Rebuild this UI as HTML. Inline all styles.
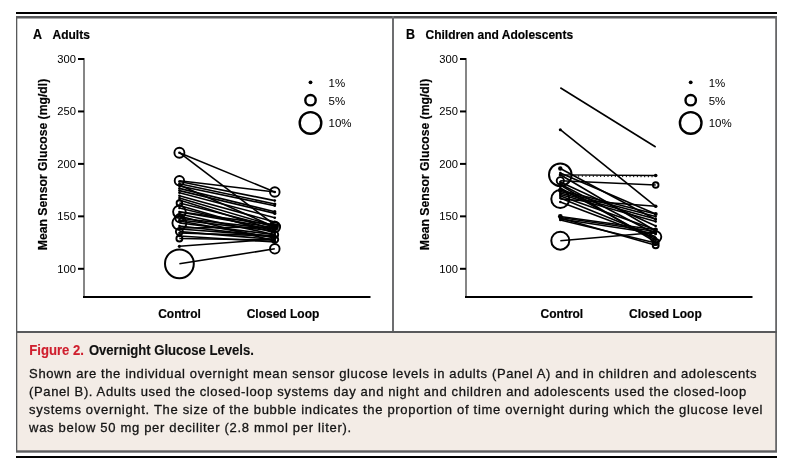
<!DOCTYPE html>
<html><head><meta charset="utf-8"><style>
html,body{margin:0;padding:0;background:#fff;}
body{width:787px;height:467px;overflow:hidden;position:relative;font-family:"Liberation Sans",sans-serif;}
svg{position:absolute;left:0;top:0;will-change:transform;}
text{font-family:"Liberation Sans",sans-serif;} .ch text[font-weight=bold]{stroke:#000;stroke-width:0.2px;}
</style></head><body>
<svg class="ch" width="787" height="467" viewBox="0 0 787 467">
<rect x="16" y="12" width="761" height="2" fill="#000"/>
<rect x="16" y="333" width="761" height="118" fill="#f3ece6"/>
<rect x="16" y="16" width="761" height="2.5" fill="#58595b"/>
<rect x="16" y="16" width="1.3" height="436" fill="#58595b"/>
<rect x="775.2" y="16" width="1.8" height="436" fill="#666769"/>
<rect x="16" y="450.3" width="761" height="2.4" fill="#5e5f61"/>
<rect x="392" y="16" width="2" height="316" fill="#6d6e70"/>
<rect x="16" y="331" width="761" height="2" fill="#58595b"/>
<rect x="16" y="456" width="761" height="2" fill="#000"/>
<text x="33" y="38.9" font-size="14" font-weight="bold" textLength="9.0" lengthAdjust="spacingAndGlyphs">A</text>
<text x="52.5" y="38.9" font-size="13.4" font-weight="bold" textLength="37.33" lengthAdjust="spacingAndGlyphs">Adults</text>
<text x="406" y="38.9" font-size="14" font-weight="bold" textLength="9.0" lengthAdjust="spacingAndGlyphs">B</text>
<text x="425.5" y="38.9" font-size="13.4" font-weight="bold" textLength="147.6" lengthAdjust="spacingAndGlyphs">Children and Adolescents</text>
<line x1="179.4" y1="152.7" x2="274.8" y2="192.0" stroke="#000" stroke-width="1.6"/>
<line x1="179.4" y1="152.7" x2="274.8" y2="225.0" stroke="#000" stroke-width="1.6"/>
<line x1="179.4" y1="180.7" x2="274.8" y2="192.0" stroke="#000" stroke-width="1.6"/>
<line x1="179.4" y1="181.5" x2="274.8" y2="200.6" stroke="#000" stroke-width="1.6"/>
<line x1="179.4" y1="183.7" x2="274.8" y2="204.0" stroke="#000" stroke-width="1.6"/>
<line x1="179.4" y1="186.0" x2="274.8" y2="205.7" stroke="#000" stroke-width="1.6"/>
<line x1="179.4" y1="188.4" x2="274.8" y2="211.7" stroke="#000" stroke-width="1.6"/>
<line x1="179.4" y1="190.6" x2="274.8" y2="213.4" stroke="#000" stroke-width="1.6"/>
<line x1="179.4" y1="192.7" x2="274.8" y2="217.7" stroke="#000" stroke-width="1.6"/>
<line x1="179.4" y1="185.0" x2="274.8" y2="227.0" stroke="#000" stroke-width="1.6"/>
<line x1="179.4" y1="212.0" x2="274.8" y2="228.0" stroke="#000" stroke-width="1.6"/>
<line x1="179.4" y1="195.7" x2="274.8" y2="222.0" stroke="#000" stroke-width="1.6"/>
<line x1="179.4" y1="198.0" x2="274.8" y2="226.0" stroke="#000" stroke-width="1.6"/>
<line x1="179.4" y1="200.0" x2="274.8" y2="230.0" stroke="#000" stroke-width="1.6"/>
<line x1="179.4" y1="203.0" x2="274.8" y2="227.0" stroke="#000" stroke-width="1.6"/>
<line x1="179.4" y1="205.5" x2="274.8" y2="233.0" stroke="#000" stroke-width="1.6"/>
<line x1="179.4" y1="211.8" x2="274.8" y2="225.0" stroke="#000" stroke-width="1.6"/>
<line x1="179.4" y1="214.0" x2="274.8" y2="234.7" stroke="#000" stroke-width="1.6"/>
<line x1="179.4" y1="218.2" x2="274.8" y2="229.0" stroke="#000" stroke-width="1.6"/>
<line x1="179.4" y1="220.0" x2="274.8" y2="231.0" stroke="#000" stroke-width="1.6"/>
<line x1="179.4" y1="223.0" x2="274.8" y2="234.7" stroke="#000" stroke-width="1.6"/>
<line x1="179.4" y1="226.0" x2="274.8" y2="237.0" stroke="#000" stroke-width="1.6"/>
<line x1="179.4" y1="228.0" x2="274.8" y2="227.0" stroke="#000" stroke-width="1.6"/>
<line x1="179.4" y1="231.6" x2="274.8" y2="239.4" stroke="#000" stroke-width="1.6"/>
<line x1="179.4" y1="233.0" x2="274.8" y2="236.0" stroke="#000" stroke-width="1.6"/>
<line x1="179.4" y1="238.5" x2="274.8" y2="240.0" stroke="#000" stroke-width="1.6"/>
<line x1="179.4" y1="236.0" x2="274.8" y2="242.0" stroke="#000" stroke-width="1.6"/>
<line x1="179.4" y1="246.3" x2="274.8" y2="239.0" stroke="#000" stroke-width="1.6"/>
<line x1="179.4" y1="263.8" x2="274.8" y2="248.8" stroke="#000" stroke-width="1.6"/>
<line x1="179.4" y1="221.0" x2="274.8" y2="238.0" stroke="#000" stroke-width="1.6"/>
<line x1="179.4" y1="208.0" x2="274.8" y2="231.0" stroke="#000" stroke-width="1.6"/>
<line x1="179.4" y1="216.0" x2="274.8" y2="241.0" stroke="#000" stroke-width="1.6"/>
<line x1="179.4" y1="229.0" x2="274.8" y2="236.0" stroke="#000" stroke-width="1.6"/>
<circle cx="179.4" cy="152.7" r="5.0" fill="none" stroke="#000" stroke-width="1.9"/>
<circle cx="274.8" cy="192.0" r="4.8" fill="none" stroke="#000" stroke-width="1.9"/>
<circle cx="179.4" cy="152.7" r="1.3" fill="#000"/>
<circle cx="274.8" cy="225.0" r="1.3" fill="#000"/>
<circle cx="179.4" cy="180.7" r="4.7" fill="none" stroke="#000" stroke-width="1.9"/>
<circle cx="274.8" cy="192.0" r="1.3" fill="#000"/>
<circle cx="179.4" cy="181.5" r="1.3" fill="#000"/>
<circle cx="274.8" cy="200.6" r="1.3" fill="#000"/>
<circle cx="179.4" cy="183.7" r="1.3" fill="#000"/>
<circle cx="274.8" cy="204.0" r="1.6" fill="#000"/>
<circle cx="179.4" cy="186.0" r="1.3" fill="#000"/>
<circle cx="274.8" cy="205.7" r="1.3" fill="#000"/>
<circle cx="179.4" cy="188.4" r="1.3" fill="#000"/>
<circle cx="274.8" cy="211.7" r="1.6" fill="#000"/>
<circle cx="179.4" cy="190.6" r="1.3" fill="#000"/>
<circle cx="274.8" cy="213.4" r="1.6" fill="#000"/>
<circle cx="179.4" cy="192.7" r="1.3" fill="#000"/>
<circle cx="274.8" cy="217.7" r="1.3" fill="#000"/>
<circle cx="179.4" cy="185.0" r="1.3" fill="#000"/>
<circle cx="274.8" cy="227.0" r="1.3" fill="#000"/>
<circle cx="179.4" cy="212.0" r="1.3" fill="#000"/>
<circle cx="274.8" cy="228.0" r="1.3" fill="#000"/>
<circle cx="179.4" cy="195.7" r="1.3" fill="#000"/>
<circle cx="274.8" cy="222.0" r="1.3" fill="#000"/>
<circle cx="179.4" cy="198.0" r="1.3" fill="#000"/>
<circle cx="274.8" cy="226.0" r="1.3" fill="#000"/>
<circle cx="179.4" cy="200.0" r="1.3" fill="#000"/>
<circle cx="274.8" cy="230.0" r="1.3" fill="#000"/>
<circle cx="179.4" cy="203.0" r="2.8" fill="none" stroke="#000" stroke-width="1.9"/>
<circle cx="274.8" cy="227.0" r="5.3" fill="none" stroke="#000" stroke-width="1.9"/>
<circle cx="179.4" cy="205.5" r="1.3" fill="#000"/>
<circle cx="274.8" cy="233.0" r="1.3" fill="#000"/>
<circle cx="179.4" cy="211.8" r="6.3" fill="none" stroke="#000" stroke-width="1.9"/>
<circle cx="274.8" cy="225.0" r="3.2" fill="none" stroke="#000" stroke-width="1.9"/>
<circle cx="179.4" cy="214.0" r="1.3" fill="#000"/>
<circle cx="274.8" cy="234.7" r="3.4" fill="none" stroke="#000" stroke-width="1.9"/>
<circle cx="179.4" cy="218.2" r="4.0" fill="none" stroke="#000" stroke-width="1.9"/>
<circle cx="274.8" cy="229.0" r="1.3" fill="#000"/>
<circle cx="179.4" cy="220.0" r="1.3" fill="#000"/>
<circle cx="274.8" cy="231.0" r="1.3" fill="#000"/>
<circle cx="179.4" cy="223.0" r="7.0" fill="none" stroke="#000" stroke-width="1.9"/>
<circle cx="274.8" cy="234.7" r="1.3" fill="#000"/>
<circle cx="179.4" cy="226.0" r="1.3" fill="#000"/>
<circle cx="274.8" cy="237.0" r="1.3" fill="#000"/>
<circle cx="179.4" cy="228.0" r="1.3" fill="#000"/>
<circle cx="274.8" cy="227.0" r="1.3" fill="#000"/>
<circle cx="179.4" cy="231.6" r="3.5" fill="none" stroke="#000" stroke-width="1.9"/>
<circle cx="274.8" cy="239.4" r="3.4" fill="none" stroke="#000" stroke-width="1.9"/>
<circle cx="179.4" cy="233.0" r="1.3" fill="#000"/>
<circle cx="274.8" cy="236.0" r="1.3" fill="#000"/>
<circle cx="179.4" cy="238.5" r="3.0" fill="none" stroke="#000" stroke-width="1.9"/>
<circle cx="274.8" cy="240.0" r="1.3" fill="#000"/>
<circle cx="179.4" cy="236.0" r="1.3" fill="#000"/>
<circle cx="274.8" cy="242.0" r="1.3" fill="#000"/>
<circle cx="179.4" cy="246.3" r="1.6" fill="#000"/>
<circle cx="274.8" cy="239.0" r="1.3" fill="#000"/>
<circle cx="179.4" cy="263.8" r="14.4" fill="none" stroke="#000" stroke-width="2.0"/>
<circle cx="274.8" cy="248.8" r="4.8" fill="none" stroke="#000" stroke-width="1.9"/>
<circle cx="179.4" cy="221.0" r="1.3" fill="#000"/>
<circle cx="274.8" cy="238.0" r="1.3" fill="#000"/>
<circle cx="179.4" cy="208.0" r="1.3" fill="#000"/>
<circle cx="274.8" cy="231.0" r="1.3" fill="#000"/>
<circle cx="179.4" cy="216.0" r="1.3" fill="#000"/>
<circle cx="274.8" cy="241.0" r="1.3" fill="#000"/>
<circle cx="179.4" cy="229.0" r="1.3" fill="#000"/>
<circle cx="274.8" cy="236.0" r="1.3" fill="#000"/>
<line x1="84" y1="58" x2="84" y2="297" stroke="#808080" stroke-width="1.9"/>
<line x1="83" y1="297" x2="370.5" y2="297" stroke="#000" stroke-width="2"/>
<line x1="78" y1="59.00" x2="84" y2="59.00" stroke="#000" stroke-width="2"/>
<text x="76" y="63.00" text-anchor="end" font-size="11.2">300</text>
<line x1="78" y1="111.45" x2="84" y2="111.45" stroke="#000" stroke-width="2"/>
<text x="76" y="115.45" text-anchor="end" font-size="11.2">250</text>
<line x1="78" y1="163.90" x2="84" y2="163.90" stroke="#000" stroke-width="2"/>
<text x="76" y="167.90" text-anchor="end" font-size="11.2">200</text>
<line x1="78" y1="216.35" x2="84" y2="216.35" stroke="#000" stroke-width="2"/>
<text x="76" y="220.35" text-anchor="end" font-size="11.2">150</text>
<line x1="78" y1="268.80" x2="84" y2="268.80" stroke="#000" stroke-width="2"/>
<text x="76" y="272.80" text-anchor="end" font-size="11.2">100</text>
<circle cx="310.5" cy="82.3" r="1.9" fill="#000"/>
<circle cx="310.5" cy="100.2" r="5.2" fill="none" stroke="#000" stroke-width="2.4"/>
<circle cx="310.5" cy="122.9" r="10.8" fill="none" stroke="#000" stroke-width="2.4"/>
<text x="328.5" y="87.2" font-size="11.5">1%</text>
<text x="328.5" y="104.5" font-size="11.5">5%</text>
<text x="328.5" y="127.3" font-size="11.5">10%</text>
<text x="179.5" y="318.2" text-anchor="middle" font-size="13" font-weight="bold" textLength="42.65" lengthAdjust="spacingAndGlyphs">Control</text>
<text x="283.0" y="318.2" text-anchor="middle" font-size="13" font-weight="bold" textLength="72.66" lengthAdjust="spacingAndGlyphs">Closed Loop</text>
<text transform="translate(46.5,164.5) rotate(-90)" text-anchor="middle" font-size="13" font-weight="bold" textLength="171.5" lengthAdjust="spacingAndGlyphs">Mean Sensor Glucose (mg/dl)</text><circle cx="275" cy="227" r="3.8" fill="#000"/>
<line x1="560.3" y1="87.7" x2="655.7" y2="147.0" stroke="#000" stroke-width="1.6"/>
<line x1="560.3" y1="129.7" x2="655.7" y2="206.3" stroke="#000" stroke-width="1.6"/>
<line x1="560.3" y1="168.5" x2="655.7" y2="219.5" stroke="#000" stroke-width="1.6"/>
<line x1="560.3" y1="174.7" x2="655.7" y2="231.0" stroke="#000" stroke-width="1.6"/>
<line x1="560.3" y1="180.7" x2="655.7" y2="185.0" stroke="#000" stroke-width="1.6"/>
<line x1="560.3" y1="199.0" x2="655.7" y2="206.3" stroke="#000" stroke-width="1.6"/>
<line x1="560.3" y1="173.0" x2="655.7" y2="214.0" stroke="#000" stroke-width="1.6"/>
<line x1="560.3" y1="190.3" x2="655.7" y2="214.0" stroke="#000" stroke-width="1.6"/>
<line x1="560.3" y1="191.5" x2="655.7" y2="216.5" stroke="#000" stroke-width="1.6"/>
<line x1="560.3" y1="193.0" x2="655.7" y2="219.0" stroke="#000" stroke-width="1.6"/>
<line x1="560.3" y1="194.5" x2="655.7" y2="221.5" stroke="#000" stroke-width="1.6"/>
<line x1="560.3" y1="196.0" x2="655.7" y2="229.8" stroke="#000" stroke-width="1.6"/>
<line x1="560.3" y1="198.0" x2="655.7" y2="236.8" stroke="#000" stroke-width="1.6"/>
<line x1="560.3" y1="185.0" x2="655.7" y2="242.0" stroke="#000" stroke-width="1.6"/>
<line x1="560.3" y1="188.0" x2="655.7" y2="240.0" stroke="#000" stroke-width="1.6"/>
<line x1="560.3" y1="216.5" x2="655.7" y2="229.8" stroke="#000" stroke-width="1.6"/>
<line x1="560.3" y1="217.5" x2="655.7" y2="231.5" stroke="#000" stroke-width="1.6"/>
<line x1="560.3" y1="219.0" x2="655.7" y2="233.5" stroke="#000" stroke-width="1.6"/>
<line x1="560.3" y1="218.0" x2="655.7" y2="245.3" stroke="#000" stroke-width="1.6"/>
<line x1="560.3" y1="220.0" x2="655.7" y2="243.0" stroke="#000" stroke-width="1.6"/>
<line x1="560.3" y1="240.7" x2="655.7" y2="232.5" stroke="#000" stroke-width="1.6"/>
<line x1="560.3" y1="182.0" x2="655.7" y2="226.0" stroke="#000" stroke-width="1.6"/>
<line x1="560.3" y1="202.0" x2="655.7" y2="238.0" stroke="#000" stroke-width="1.6"/>
<line x1="560.3" y1="184.0" x2="655.7" y2="234.0" stroke="#000" stroke-width="1.6"/>
<circle cx="560.3" cy="129.7" r="1.5" fill="#000"/>
<circle cx="655.7" cy="206.3" r="1.8" fill="#000"/>
<circle cx="560.3" cy="168.5" r="2.2" fill="#000"/>
<circle cx="655.7" cy="219.5" r="1.3" fill="#000"/>
<circle cx="560.3" cy="174.7" r="11.3" fill="none" stroke="#000" stroke-width="2.0"/>
<circle cx="655.7" cy="231.0" r="1.3" fill="#000"/>
<circle cx="560.3" cy="180.7" r="3.6" fill="none" stroke="#000" stroke-width="1.9"/>
<circle cx="655.7" cy="185.0" r="2.8" fill="none" stroke="#000" stroke-width="1.9"/>
<circle cx="560.3" cy="199.0" r="9.0" fill="none" stroke="#000" stroke-width="2.0"/>
<circle cx="655.7" cy="206.3" r="1.3" fill="#000"/>
<circle cx="560.3" cy="173.0" r="1.3" fill="#000"/>
<circle cx="655.7" cy="214.0" r="2.0" fill="#000"/>
<circle cx="560.3" cy="190.3" r="2.4" fill="#000"/>
<circle cx="655.7" cy="214.0" r="1.3" fill="#000"/>
<circle cx="560.3" cy="191.5" r="1.3" fill="#000"/>
<circle cx="655.7" cy="216.5" r="1.3" fill="#000"/>
<circle cx="560.3" cy="193.0" r="1.3" fill="#000"/>
<circle cx="655.7" cy="219.0" r="1.3" fill="#000"/>
<circle cx="560.3" cy="194.5" r="1.3" fill="#000"/>
<circle cx="655.7" cy="221.5" r="1.3" fill="#000"/>
<circle cx="560.3" cy="196.0" r="1.3" fill="#000"/>
<circle cx="655.7" cy="229.8" r="2.2" fill="#000"/>
<circle cx="560.3" cy="198.0" r="1.3" fill="#000"/>
<circle cx="655.7" cy="236.8" r="5.6" fill="none" stroke="#000" stroke-width="1.9"/>
<circle cx="560.3" cy="185.0" r="1.3" fill="#000"/>
<circle cx="655.7" cy="242.0" r="3.0" fill="none" stroke="#000" stroke-width="1.9"/>
<circle cx="560.3" cy="188.0" r="1.3" fill="#000"/>
<circle cx="655.7" cy="240.0" r="1.3" fill="#000"/>
<circle cx="560.3" cy="216.5" r="2.4" fill="#000"/>
<circle cx="655.7" cy="229.8" r="1.3" fill="#000"/>
<circle cx="560.3" cy="217.5" r="1.3" fill="#000"/>
<circle cx="655.7" cy="231.5" r="1.3" fill="#000"/>
<circle cx="560.3" cy="219.0" r="1.3" fill="#000"/>
<circle cx="655.7" cy="233.5" r="1.3" fill="#000"/>
<circle cx="560.3" cy="218.0" r="1.3" fill="#000"/>
<circle cx="655.7" cy="245.3" r="3.0" fill="none" stroke="#000" stroke-width="1.9"/>
<circle cx="560.3" cy="220.0" r="1.3" fill="#000"/>
<circle cx="655.7" cy="243.0" r="1.3" fill="#000"/>
<circle cx="560.3" cy="240.7" r="9.0" fill="none" stroke="#000" stroke-width="2.0"/>
<circle cx="655.7" cy="232.5" r="1.3" fill="#000"/>
<circle cx="560.3" cy="182.0" r="1.3" fill="#000"/>
<circle cx="655.7" cy="226.0" r="1.3" fill="#000"/>
<circle cx="560.3" cy="202.0" r="1.3" fill="#000"/>
<circle cx="655.7" cy="238.0" r="1.3" fill="#000"/>
<circle cx="560.3" cy="184.0" r="1.3" fill="#000"/>
<circle cx="655.7" cy="234.0" r="1.3" fill="#000"/>
<line x1="560.3" y1="174.9" x2="655.7" y2="175.5" stroke="#000" stroke-width="1.3"/>
<rect x="563.47" y="175.22" width="1.0" height="1.5" fill="#000"/>
<rect x="567.14" y="175.25" width="1.0" height="1.5" fill="#000"/>
<rect x="570.81" y="175.27" width="1.0" height="1.5" fill="#000"/>
<rect x="574.48" y="175.29" width="1.0" height="1.5" fill="#000"/>
<rect x="578.15" y="175.32" width="1.0" height="1.5" fill="#000"/>
<rect x="581.82" y="175.34" width="1.0" height="1.5" fill="#000"/>
<rect x="585.48" y="175.36" width="1.0" height="1.5" fill="#000"/>
<rect x="589.15" y="175.38" width="1.0" height="1.5" fill="#000"/>
<rect x="592.82" y="175.41" width="1.0" height="1.5" fill="#000"/>
<rect x="596.49" y="175.43" width="1.0" height="1.5" fill="#000"/>
<rect x="600.16" y="175.45" width="1.0" height="1.5" fill="#000"/>
<rect x="603.83" y="175.48" width="1.0" height="1.5" fill="#000"/>
<rect x="607.50" y="175.50" width="1.0" height="1.5" fill="#000"/>
<rect x="611.17" y="175.52" width="1.0" height="1.5" fill="#000"/>
<rect x="614.84" y="175.55" width="1.0" height="1.5" fill="#000"/>
<rect x="618.51" y="175.57" width="1.0" height="1.5" fill="#000"/>
<rect x="622.18" y="175.59" width="1.0" height="1.5" fill="#000"/>
<rect x="625.85" y="175.62" width="1.0" height="1.5" fill="#000"/>
<rect x="629.52" y="175.64" width="1.0" height="1.5" fill="#000"/>
<rect x="633.18" y="175.66" width="1.0" height="1.5" fill="#000"/>
<rect x="636.85" y="175.68" width="1.0" height="1.5" fill="#000"/>
<rect x="640.52" y="175.71" width="1.0" height="1.5" fill="#000"/>
<rect x="644.19" y="175.73" width="1.0" height="1.5" fill="#000"/>
<rect x="647.86" y="175.75" width="1.0" height="1.5" fill="#000"/>
<rect x="651.53" y="175.78" width="1.0" height="1.5" fill="#000"/>
<circle cx="560.3" cy="174.9" r="1.6" fill="#000"/>
<circle cx="655.7" cy="175.5" r="1.8" fill="#000"/>
<line x1="466" y1="58" x2="466" y2="297" stroke="#808080" stroke-width="1.9"/>
<line x1="465" y1="297" x2="752.5" y2="297" stroke="#000" stroke-width="2"/>
<line x1="460" y1="59.00" x2="466" y2="59.00" stroke="#000" stroke-width="2"/>
<text x="458" y="63.00" text-anchor="end" font-size="11.2">300</text>
<line x1="460" y1="111.45" x2="466" y2="111.45" stroke="#000" stroke-width="2"/>
<text x="458" y="115.45" text-anchor="end" font-size="11.2">250</text>
<line x1="460" y1="163.90" x2="466" y2="163.90" stroke="#000" stroke-width="2"/>
<text x="458" y="167.90" text-anchor="end" font-size="11.2">200</text>
<line x1="460" y1="216.35" x2="466" y2="216.35" stroke="#000" stroke-width="2"/>
<text x="458" y="220.35" text-anchor="end" font-size="11.2">150</text>
<line x1="460" y1="268.80" x2="466" y2="268.80" stroke="#000" stroke-width="2"/>
<text x="458" y="272.80" text-anchor="end" font-size="11.2">100</text>
<circle cx="690.7" cy="82.3" r="1.9" fill="#000"/>
<circle cx="690.7" cy="100.2" r="5.2" fill="none" stroke="#000" stroke-width="2.4"/>
<circle cx="690.7" cy="122.9" r="10.8" fill="none" stroke="#000" stroke-width="2.4"/>
<text x="708.7" y="87.2" font-size="11.5">1%</text>
<text x="708.7" y="104.5" font-size="11.5">5%</text>
<text x="708.7" y="127.3" font-size="11.5">10%</text>
<text x="561.9" y="318.2" text-anchor="middle" font-size="13" font-weight="bold" textLength="42.65" lengthAdjust="spacingAndGlyphs">Control</text>
<text x="665.4" y="318.2" text-anchor="middle" font-size="13" font-weight="bold" textLength="72.66" lengthAdjust="spacingAndGlyphs">Closed Loop</text>
<text transform="translate(428.5,164.5) rotate(-90)" text-anchor="middle" font-size="13" font-weight="bold" textLength="171.5" lengthAdjust="spacingAndGlyphs">Mean Sensor Glucose (mg/dl)</text>
</svg>
<svg width="787" height="467" style="position:absolute;left:0;top:0">
<text x="29.3" y="355" font-size="13.8" font-weight="bold" fill="#cf1f2e" stroke="#cf1f2e" stroke-width="0.15" textLength="54.6" lengthAdjust="spacingAndGlyphs">Figure 2.</text><text x="88.9" y="355" font-size="13.8" font-weight="bold" fill="#111" stroke="#111" stroke-width="0.15" textLength="165" lengthAdjust="spacingAndGlyphs">Overnight Glucose Levels.</text>
<g font-size="13" fill="#141414" stroke="#141414" stroke-width="0.3">
<text x="29.1" y="378" style="letter-spacing:0.617px">Shown are the individual overnight mean sensor glucose levels in adults (Panel A) and in children and adolescents</text>
<text x="29.1" y="396.3" style="letter-spacing:0.618px">(Panel B). Adults used the closed-loop systems day and night and children and adolescents used the closed-loop</text>
<text x="29.1" y="414.3" style="letter-spacing:0.686px">systems overnight. The size of the bubble indicates the proportion of time overnight during which the glucose level</text>
<text x="29.1" y="432" style="letter-spacing:0.688px">was below 50 mg per deciliter (2.8 mmol per liter).</text>
</g>
</svg>
</body></html>
